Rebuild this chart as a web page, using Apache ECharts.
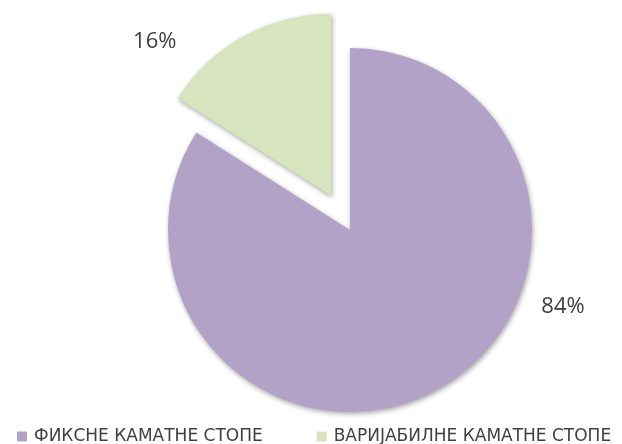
<!DOCTYPE html>
<html>
<head>
<meta charset="utf-8">
<script src="https://cdn.jsdelivr.net/npm/echarts@6/dist/echarts.min.js"></script>
<style>
  html, body { margin: 0; padding: 0; background: #fff; }
  #chart { width: 622px; height: 444px; }
</style>
</head>
<body>
<div id="chart"></div>
<script>
// Share of loans by interest rate type
const categories = ['ФИКСНЕ КАМАТНЕ СТОПЕ', 'ВАРИЈАБИЛНЕ КАМАТНЕ СТОПЕ'];
const shares = [84, 16];
const colors = ['#b3a2c7', '#d7e4bd'];
// centre of the label for the slice that stays in place
const fixedLabelSpot = [563, 307];

const chart = echarts.init(document.getElementById('chart'), null, { renderer: 'canvas' });

chart.setOption({
  animation: false,
  color: colors,
  legend: {
    data: categories,
    left: 12,
    top: 423,
    icon: 'rect',
    itemWidth: 10,
    itemHeight: 10,
    itemGap: 54,
    selectedMode: false,
    textStyle: { fontFamily: 'DejaVu Sans', fontSize: 17, color: '#404040', padding: [0, 0, 0, 2] }
  },
  series: [{
    type: 'pie',
    center: [350, 230],
    radius: [0, 182],
    startAngle: 90,
    clockwise: true,
    selectedMode: 'single',
    selectedOffset: 39,
    silent: true,
    itemStyle: {
      shadowBlur: 5,
      shadowColor: 'rgba(0,0,0,0.35)',
      shadowOffsetX: 1,
      shadowOffsetY: 2
    },
    label: {
      show: true,
      position: 'outside',
      formatter: '{c}%',
      fontFamily: 'Open Sans',
      fontSize: 22,
      color: '#404040'
    },
    labelLine: { show: false },
    labelLayout: function (p) {
      if (p.dataIndex !== 0) return {};
      return { x: fixedLabelSpot[0], y: fixedLabelSpot[1], align: 'center', verticalAlign: 'middle' };
    },
    data: categories.map((name, i) => ({
      name: name,
      value: shares[i],
      selected: i === 1,
      // the pulled-out slice keeps the default outside label; steer it with the hidden guide line
      labelLine: i === 1 ? { show: false, length: -6, length2: 65 } : undefined
    }))
  }]
});
</script>
</body>
</html>
